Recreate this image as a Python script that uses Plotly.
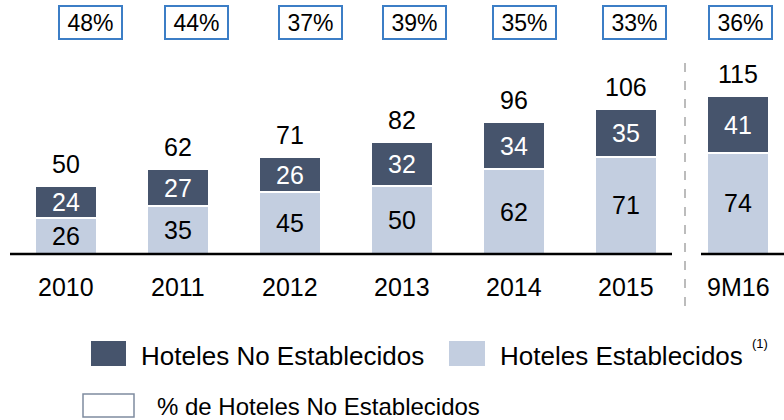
import plotly.graph_objects as go

# ---- data ----
categories = ["2010", "2011", "2012", "2013", "2014", "2015", "9M16"]
established = [26, 35, 45, 50, 62, 71, 74]          # Hoteles Establecidos
not_established = [24, 27, 26, 32, 34, 35, 41]      # Hoteles No Establecidos
totals = [50, 62, 71, 82, 96, 106, 115]
pct_not_established = ["48%", "44%", "37%", "39%", "35%", "33%", "36%"]

# ---- style ----
W, H = 784, 420
DARK = "#46546C"
LIGHT = "#C3CEE0"
BOX_BLUE = "#3C7EC6"
FONT = "Arial, Liberation Sans, sans-serif"
PX_PER_UNIT = 1.37
BASE_PX = 254
SPACING = 112
FIRST_CENTER = 66
pct_xshift = [24, 18, 20, 12, 10, 8, 2]

fig = go.Figure()
fig.add_trace(go.Bar(x=categories, y=established, name="Hoteles Establecidos",
                     marker=dict(color=LIGHT, line=dict(color="white", width=2)),
                     width=62 / SPACING, showlegend=False, hoverinfo="skip"))
fig.add_trace(go.Bar(x=categories, y=not_established, name="Hoteles No Establecidos",
                     marker=dict(color=DARK, line=dict(color="white", width=2)),
                     width=62 / SPACING, showlegend=False, hoverinfo="skip"))

annotations = []
for i, c in enumerate(categories):
    e, n, t = established[i], not_established[i], totals[i]
    # category axis: position by category index
    annotations.append(dict(x=i, y=e / 2, xref="x", yref="y", text=str(e), showarrow=False,
                            yanchor="middle", font=dict(size=25, color="black", family=FONT)))
    annotations.append(dict(x=i, y=e + n / 2, xref="x", yref="y", text=str(n), showarrow=False,
                            yanchor="middle", font=dict(size=25, color="white", family=FONT)))
    annotations.append(dict(x=i, y=t, xref="x", yref="y", text=str(t), showarrow=False,
                            yanchor="middle", yshift=22, font=dict(size=25, color="black", family=FONT)))
    annotations.append(dict(x=i, y=0, xref="x", yref="y", text=c, showarrow=False,
                            yanchor="middle", yshift=-33, font=dict(size=25, color="black", family=FONT)))
    annotations.append(dict(x=i, y=1 - 22.5 / H, xref="x", yref="paper", text=pct_not_established[i],
                            showarrow=False, xshift=pct_xshift[i], yanchor="middle",
                            width=61, height=31, borderwidth=2, borderpad=0,
                            bordercolor=BOX_BLUE, bgcolor="white",
                            font=dict(size=23, color="black", family=FONT)))

def px(x):
    return x / W

def py(y):
    return 1 - y / H

# legend (manual)
annotations += [
    dict(x=px(139), y=py(356), xref="paper", yref="paper", xanchor="left", yanchor="middle",
         text="Hoteles No Establecidos", showarrow=False, font=dict(size=26, color="black", family=FONT)),
    dict(x=px(498), y=py(356), xref="paper", yref="paper", xanchor="left", yanchor="middle",
         text="Hoteles Establecidos", showarrow=False, font=dict(size=26, color="black", family=FONT)),
    dict(x=px(750), y=py(343), xref="paper", yref="paper", xanchor="left", yanchor="middle",
         text="(1)", showarrow=False, font=dict(size=13, color="black", family=FONT)),
    dict(x=px(155), y=py(406), xref="paper", yref="paper", xanchor="left", yanchor="middle",
         text="% de Hoteles No Establecidos", showarrow=False, font=dict(size=24, color="black", family=FONT)),
]

shapes = [
    # baseline (broken)
    dict(type="line", xref="paper", yref="y", x0=px(10), x1=px(672), y0=0, y1=0,
         line=dict(color="black", width=2.5), layer="above"),
    dict(type="line", xref="paper", yref="y", x0=px(701), x1=px(784), y0=0, y1=0,
         line=dict(color="black", width=2.5), layer="above"),
    # dashed separator
    dict(type="line", xref="paper", yref="paper", x0=px(685), x1=px(685), y0=py(63), y1=py(312),
         line=dict(color="#A6A6A6", width=1.5, dash="dash")),
    # legend swatches
    dict(type="rect", xref="paper", yref="paper", x0=px(91), x1=px(126), y0=py(366), y1=py(341),
         fillcolor=DARK, line=dict(width=0)),
    dict(type="rect", xref="paper", yref="paper", x0=px(449), x1=px(485), y0=py(366), y1=py(341),
         fillcolor=LIGHT, line=dict(width=0)),
    dict(type="rect", xref="paper", yref="paper", x0=px(83), x1=px(134), y0=py(417), y1=py(394),
         fillcolor="white", line=dict(color="#7F8CA0", width=1.5)),
]

fig.update_layout(
    width=W, height=H, margin=dict(l=0, r=0, t=0, b=0),
    barmode="stack", bargap=0,
    plot_bgcolor="white", paper_bgcolor="white",
    xaxis=dict(type="category", range=[-FIRST_CENTER / SPACING, (W - FIRST_CENTER) / SPACING],
               showticklabels=False, showgrid=False, zeroline=False, showline=False, fixedrange=True),
    yaxis=dict(range=[-(H - BASE_PX) / PX_PER_UNIT, BASE_PX / PX_PER_UNIT],
               showticklabels=False, showgrid=False, zeroline=False, showline=False, fixedrange=True),
    annotations=annotations, shapes=shapes, showlegend=False,
    font=dict(family=FONT),
)

fig.write_html("out.html", config={"displayModeBar": False},
               post_script="document.body.style.margin='0';document.body.style.overflow='hidden';")
